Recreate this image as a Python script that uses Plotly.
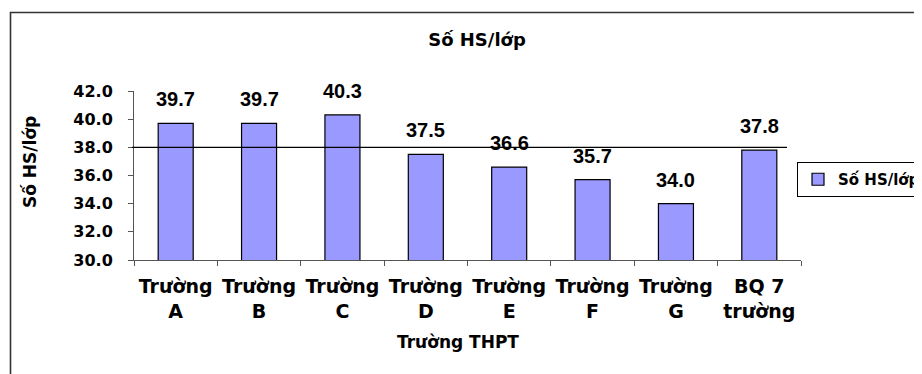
import plotly.graph_objects as go

categories = ["Trường<br>A", "Trường<br>B", "Trường<br>C", "Trường<br>D",
              "Trường<br>E", "Trường<br>F", "Trường<br>G", "BQ 7<br>trường"]
values = [39.7, 39.7, 40.3, 37.5, 36.6, 35.7, 34.0, 37.8]
series_name = "Số HS/lớp"
reference_value = 38.0
y_range = [30, 42]
y_ticks = [30, 32, 34, 36, 38, 40, 42]

# page has an 8px body margin; work in page pixels and convert
OFF = 8
W, H = 922 - OFF, 374 - OFF
L, T = 134 - OFF, 91 - OFF
pw, ph = 801 - 134, 260 - 91
R = W - L - pw
B = H - T - ph


def px(xp):
    return (xp - OFF - L) / pw


def py(yp):
    return (T + ph - (yp - OFF)) / ph


WIDE = "DejaVu Sans"
ARIAL = "Liberation Sans, Arial"

fig = go.Figure()
fig.add_trace(go.Bar(
    x=categories, y=values, name=series_name,
    marker=dict(color="#9999FF", line=dict(color="black", width=1.2)),
    showlegend=True,
))

for c, v in zip(categories, values):
    fig.add_annotation(x=c, y=v, text=f"{v:.1f}", showarrow=False,
                       yanchor="bottom", yshift=11,
                       font=dict(family=ARIAL, size=20, color="black", weight="bold"))

# reference line at 38
fig.add_shape(type="line", xref="paper", yref="y",
              x0=px(132), x1=px(787),
              y0=reference_value, y1=reference_value,
              line=dict(color="black", width=1.3))

# outer chart border
fig.add_shape(type="rect", xref="paper", yref="paper",
              x0=px(10.5), x1=px(960), y0=py(420), y1=py(12.5),
              line=dict(color="#333333", width=1.6), fillcolor="rgba(0,0,0,0)")

# y axis title
fig.add_annotation(xref="paper", yref="paper", x=px(18), y=py(162),
                   text="Số HS/lớp", textangle=-90, showarrow=False,
                   font=dict(family=WIDE, size=17, color="black", weight="bold"))
# x axis title
fig.add_annotation(xref="paper", yref="paper", x=px(458), y=py(342),
                   text="Trường THPT", showarrow=False, yanchor="middle",
                   font=dict(family=WIDE, size=17, color="black", weight="bold"))

fig.update_layout(
    width=W, height=H,
    margin=dict(l=L, r=R, t=T, b=B, autoexpand=False),
    paper_bgcolor="white", plot_bgcolor="white",
    bargap=0.58,
    title=dict(text="Số HS/lớp", x=(477 - OFF) / W, xref="container", xanchor="center",
               y=1 - (40 - OFF) / H, yref="container", yanchor="middle",
               font=dict(family=WIDE, size=18, color="black", weight="bold")),
    legend=dict(x=px(797), y=py(162), xanchor="left", yanchor="top",
                bordercolor="black", borderwidth=1, bgcolor="white",
                font=dict(family=WIDE, size=15, color="black", weight="bold")),
    xaxis=dict(showline=True, linecolor="#555555", linewidth=1,
               ticks="outside", tickson="boundaries", ticklen=5, tickcolor="#555555",
               tickangle=0, ticklabelstandoff=9,
               tickfont=dict(family=WIDE, size=19, color="black", weight="bold"),
               showgrid=False, zeroline=False),
    yaxis=dict(range=y_range, tickvals=y_ticks, tickformat=".1f",
               showline=True, linecolor="#555555", linewidth=1,
               ticks="outside", ticklen=5, tickcolor="#555555", ticklabelstandoff=12,
               tickfont=dict(family=WIDE, size=16, color="black", weight="bold"),
               showgrid=False, zeroline=False),
)

fig.write_html("out.html")
